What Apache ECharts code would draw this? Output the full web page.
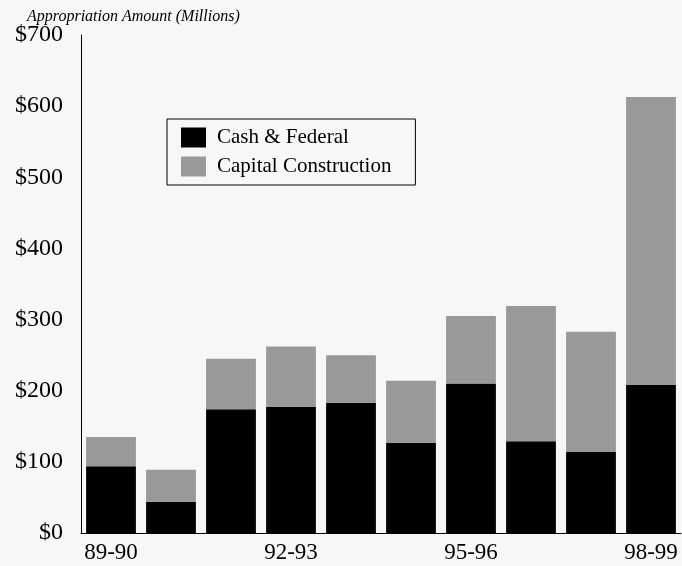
<!DOCTYPE html>
<html>
<head>
<meta charset="utf-8">
<script src="https://cdn.jsdelivr.net/npm/echarts@6/dist/echarts.min.js"></script>
<style>
    html, body { margin: 0; padding: 0; background: #f7f7f7; }
    #chart { width: 682px; height: 566px; }
</style>
</head>
<body>
<div id="chart"></div>
<script>
// 数据
const years = ['89-90', '90-91', '91-92', '92-93', '93-94', '94-95', '95-96', '96-97', '97-98', '98-99'];
const cashFederal = [94, 44, 174, 177, 183, 127, 210, 129, 114, 208];
const capitalConstruction = [41, 45, 71, 85, 67, 87, 95, 190, 169, 405];
const yTicks = [0, 100, 200, 300, 400, 500, 600, 700];

const serif = '"Liberation Serif", "DejaVu Serif", serif';
const myChart = echarts.init(document.getElementById('chart'));

const option = {
    backgroundColor: '#f7f7f7',
    animation: false,
    title: {
        text: 'Appropriation Amount (Millions)',
        left: 22,
        top: 4,
        textStyle: {
            fontFamily: serif,
            fontStyle: 'italic',
            fontWeight: 'normal',
            fontSize: 16,
            color: '#000'
        }
    },
    legend: {
        orient: 'vertical',
        left: 167,
        top: 119,
        padding: [8, 24, 8, 14],
        itemGap: 8,
        itemWidth: 25,
        itemHeight: 20,
        borderColor: '#000',
        borderWidth: 1,
        backgroundColor: '#f7f7f7',
        textStyle: { fontFamily: serif, fontSize: 21, color: '#000', padding: [0, 0, 0, 6] },
        data: [
            { name: 'Cash & Federal', icon: 'rect' },
            { name: 'Capital Construction', icon: 'rect' }
        ]
    },
    grid: {
        left: 81,
        right: 1,
        top: 35,
        bottom: 33
    },
    xAxis: {
        type: 'category',
        data: years,
        axisLine: { lineStyle: { color: '#000', width: 1 } },
        axisTick: { show: false },
        axisLabel: {
            interval: 2,
            color: '#000',
            fontFamily: serif,
            fontSize: 23,
            margin: 8
        }
    },
    yAxis: {
        type: 'value',
        min: yTicks[0],
        max: yTicks[yTicks.length - 1],
        interval: 100,
        splitLine: { show: false },
        axisLine: { show: true, lineStyle: { color: '#000', width: 1 } },
        axisTick: { show: false },
        axisLabel: {
            color: '#000',
            fontFamily: serif,
            fontSize: 24,
            margin: 18,
            formatter: v => '$' + v
        }
    },
    series: [
        {
            name: 'Cash & Federal',
            type: 'bar',
            stack: 'total',
            barCategoryGap: '17%',
            itemStyle: { color: '#000' },
            data: cashFederal
        },
        {
            name: 'Capital Construction',
            type: 'bar',
            stack: 'total',
            itemStyle: { color: '#999999' },
            data: capitalConstruction
        }
    ]
};
myChart.setOption(option);
</script>
</body>
</html>
